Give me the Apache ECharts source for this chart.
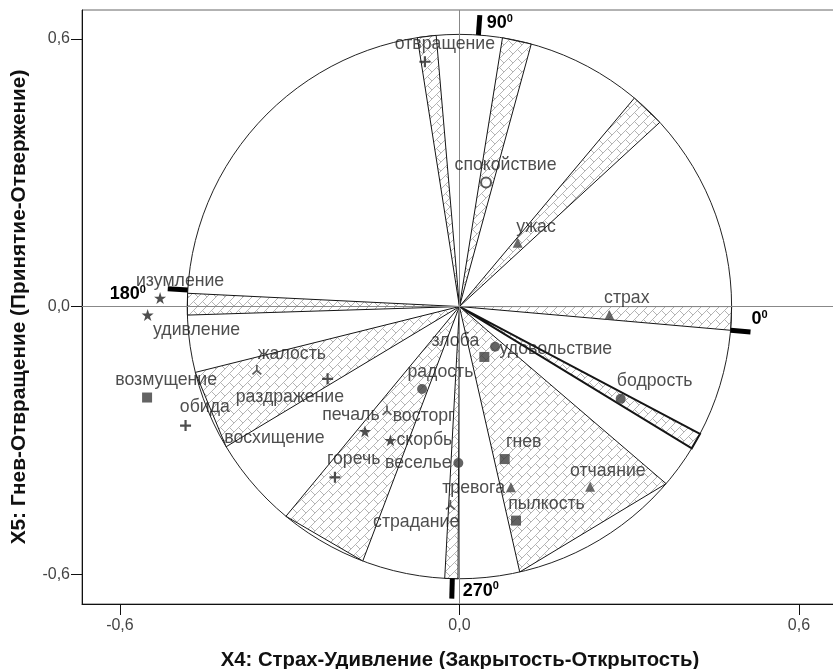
<!DOCTYPE html>
<html><head><meta charset="utf-8">
<script src="https://cdn.jsdelivr.net/npm/echarts@6/dist/echarts.min.js"></script>
<style>html,body{margin:0;padding:0;background:#fff}#c{width:833px;height:669px}</style>
</head><body><div id="c"></div>
<script>
// ---- data ----
const names = ['отвращение','спокойствие','ужас','страх','изумление','удивление','возмущение','обида','жалость','раздражение','восхищение','печаль','восторг','скорбь','горечь','веселье','радость','злоба','удовольствие','бодрость','гнев','отчаяние','тревога','пылкость','страдание'];
const xs = [-0.061, 0.047, 0.103, 0.265, -0.529, -0.551, -0.552, -0.484, -0.358, -0.233, -0.419, -0.167, -0.128, -0.122, -0.220, -0.002, -0.066, 0.044, 0.063, 0.285, 0.080, 0.231, 0.091, 0.100, -0.016];
const ys = [0.549, 0.278, 0.143, -0.019, 0.019, -0.019, -0.204, -0.267, -0.142, -0.162, -0.299, -0.280, -0.233, -0.300, -0.383, -0.351, -0.185, -0.113, -0.090, -0.207, -0.342, -0.404, -0.405, -0.480, -0.445];
const kinds = ['plus','empty','tri','tri','star','star','sq','plus','tristar','plus','none','star','tristar','star','plus','dot','dot','sq','dot','dot','sq','tri','tri','sq','tristar'];
const xTicks = [-0.6, 0.0, 0.6];
const yTicks = [-0.6, 0.0, 0.6];
const circleRadius = 0.481;            // in X4 units
const wedgeFrom = [-5, -31.4, -77.2, 266.9, 230.4, 194, 177.2, 42.6, 74.7, 94.9];
const wedgeTo   = [0, -27.9, -40.6, 269.7, 249.2, 211, 181.8, 50, 80.9, 98.9];
const angleMarks = [-5, 86, 176.5, 268.5];
const angleNames = ['0', '90', '180', '270'];

// ---- layout / style ----
const labelOffsets = {
  'отвращение':[20,-18],'спокойствие':[19.5,-17],'ужас':[18.3,-16],'страх':[17.4,-16.7],
  'изумление':[20,-17.3],'удивление':[49,15],'возмущение':[19.1,-17.7],'обида':[19.3,-18.4],
  'жалость':[35,-16],'раздражение':[-37.7,18.7],'восхищение':[52,-1.7],'печаль':[-14,-16],
  'восторг':[36.6,5.3],'скорбь':[34,0],'горечь':[18.7,-18],'веселье':[-40,0],'радость':[18.3,-17.3],
  'злоба':[-29,-15.6],'удовольствие':[60.8,2.3],'бодрость':[34,-17.3],'гнев':[19,-16.7],
  'отчаяние':[17.7,-16],'тревога':[-37.3,1],'пылкость':[30.5,-16.7],'страдание':[-34.2,16.7]
};
const angleLabelPos = { // relative to outer end of bar
  '0':  {dx:1, dy:-12.5, align:'left'},
  '90': {dx:7, dy:8, align:'left'},
  '180':{dx:-22, dy:5.5, align:'right'},
  '270':{dx:11, dy:-8, align:'left'}
};
const FONT = '"Liberation Sans", Arial, sans-serif';
const symbols = {
  plus:   {symbol:'path://M4,0H6V4H10V6H6V10H4V6H0V4H4Z', size:11, color:'#222'},
  star:   {symbol:'path://M50,0L61.8,35.1L98.9,35.1L68.9,56.9L80.4,92.1L50,70.5L19.6,92.1L31.1,56.9L1.1,35.1L38.2,35.1Z', size:12, color:'#222'},
  tristar:{symbol:'path://M4.2,0H5.8V5L9.6,8.6L8.5,9.8L5,6.5L1.5,9.8L0.4,8.6L4.2,5Z', size:10, color:'#333'},
  tri:    {symbol:'triangle', size:10, color:'#444'},
  sq:     {symbol:'rect', size:10, color:'#3c3c3c'},
  dot:    {symbol:'circle', size:10, color:'#3c3c3c'},
  empty:  {symbol:'emptyCircle', size:10, color:'#333'},
  none:   {symbol:'circle', size:1, color:'rgba(0,0,0,0)'}
};

function makeHatch(){
  const s = 9, cv = document.createElement('canvas');
  cv.width = s; cv.height = s;
  const g = cv.getContext('2d');
  g.fillStyle = '#fff'; g.fillRect(0,0,s,s);
  g.strokeStyle = '#b4b4b4'; g.lineWidth = 1;
  g.beginPath();
  g.moveTo(-1, s+1); g.lineTo(s+1, -1);
  g.moveTo(-1, 1); g.lineTo(1, -1);
  g.moveTo(s-1, s+1); g.lineTo(s+1, s-1);
  g.moveTo(s/2, s/2); g.lineTo(s+1, s+1);
  g.stroke();
  return cv;
}
const hatch = makeHatch();

const fmt = v => (Math.abs(v) < 1e-9 ? '0,0' : v.toFixed(1).replace('.', ','));

const pointData = names.map((n, i) => {
  const s = symbols[kinds[i]];
  return {
    name: n, value: [xs[i], ys[i]],
    symbol: s.symbol, symbolSize: s.size,
    itemStyle: kinds[i] === 'empty' ? {color:'#333', borderColor:'#333', borderWidth:1.5} : {color: s.color},
    label: {offset: labelOffsets[n] || [0,-16]}
  };
});

function renderBackground(params, api){
  const c = api.coord([0, 0]);
  const R = api.size([circleRadius, 0])[0];
  const pt = (a, r) => [c[0] + r*Math.cos(a*Math.PI/180), c[1] - r*Math.sin(a*Math.PI/180)];
  const children = [];
  children.push({type:'circle', shape:{cx:c[0], cy:c[1], r:R}, style:{fill:'none', stroke:'#222', lineWidth:1}});
  wedgeFrom.forEach((a1, i) => {
    const a2 = wedgeTo[i];
    children.push({type:'polygon', shape:{points:[c, pt(a1,R), pt(a2,R)]},
      style:{fill:{image:hatch, repeat:'repeat'}, stroke:'#151515', lineWidth: i === 1 ? 2 : 1, lineJoin:'miter'}});
  });
  angleMarks.forEach((a, i) => {
    const p1 = pt(a, R), p2 = pt(a, R + 20);
    children.push({type:'line', shape:{x1:p1[0], y1:p1[1], x2:p2[0], y2:p2[1]}, style:{stroke:'#000', lineWidth:5}});
    const lp = angleLabelPos[angleNames[i]];
    children.push({type:'text', x:p2[0] + lp.dx, y:p2[1] + lp.dy, style:{
      text:'{n|' + angleNames[i] + '}{s|0}', align:lp.align, verticalAlign:'middle',
      rich:{n:{fontSize:18, fontWeight:'bold', fontFamily:FONT, fill:'#000', lineHeight:20},
            s:{fontSize:11, fontWeight:'bold', fontFamily:FONT, fill:'#000', verticalAlign:'top', lineHeight:11}}
    }});
  });
  return {type:'group', children};
}

const chart = echarts.init(document.getElementById('c'), null, {renderer:'canvas'});
chart.setOption({
  animation:false,
  backgroundColor:'#fff',
  grid:{left:82, top:10, width:756, height:594, show:true, borderColor:'#666', borderWidth:1,
        outerBoundsMode:'none', containLabel:false},
  xAxis:{type:'value', min:-0.667, max:0.669,
    name:'X4: Страх-Удивление (Закрытость-Открытость)', nameLocation:'middle', nameGap:46,
    nameTextStyle:{fontFamily:FONT, fontSize:20.3, fontWeight:'bold', color:'#111'},
    axisLine:{show:true, onZero:false, lineStyle:{color:'#111', width:1}},
    axisTick:{show:true, length:11, customValues:xTicks, lineStyle:{color:'#111'}},
    axisLabel:{customValues:xTicks, formatter:fmt, margin:14, fontFamily:FONT, fontSize:16, color:'#444'},
    splitLine:{show:false}},
  yAxis:{type:'value', min:-0.667, max:0.665,
    name:'X5: Гнев-Отвращение (Принятие-Отвержение)', nameLocation:'middle', nameGap:52,
    nameTextStyle:{fontFamily:FONT, fontSize:20.8, fontWeight:'bold', color:'#111'},
    axisLine:{show:true, onZero:false, lineStyle:{color:'#111', width:1}},
    axisTick:{show:true, length:11, customValues:yTicks, lineStyle:{color:'#111'}},
    axisLabel:{customValues:yTicks, formatter:fmt, margin:12, fontFamily:FONT, fontSize:16, color:'#444'},
    splitLine:{show:false}},
  series:[
    {type:'custom', data:[[0,0]], renderItem:renderBackground, silent:true, z:1,
     markLine:{silent:true, symbol:['none','none'], label:{show:false},
       lineStyle:{color:'#888', width:1, type:'solid'}, data:[{xAxis:0},{yAxis:0}]}},
    {type:'scatter', data:pointData, z:5,
     label:{show:true, position:'inside', formatter:'{b}', fontFamily:FONT, fontSize:17.7, color:'#222',
            align:'center', verticalAlign:'middle'}}
  ]
});
</script></body></html>
